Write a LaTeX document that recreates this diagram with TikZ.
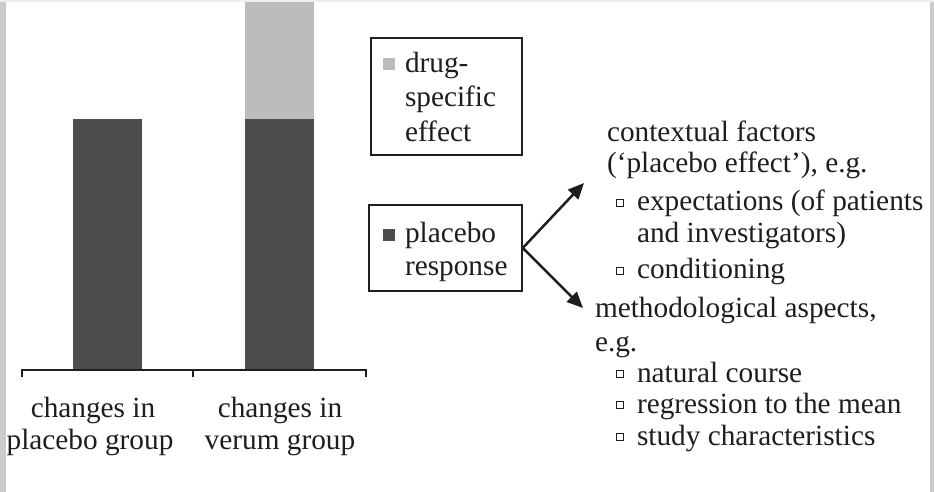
\documentclass[tikz,border=0pt]{standalone}
\usepackage{fontspec}
\setmainfont{Liberation Serif}
\usetikzlibrary{arrows.meta}
\definecolor{darkbar}{HTML}{4D4D4D}
\definecolor{lightbar}{HTML}{BBBCBD}
\definecolor{framegray}{HTML}{CCCCCC}
\definecolor{topgray}{HTML}{EDEDF2}
\definecolor{ink}{HTML}{1E1E1E}
\begin{document}
\begin{tikzpicture}[x=1pt,y=-1pt,
  txt/.style={inner sep=0pt,outer sep=0pt,font=\fontsize{29.3}{33}\selectfont,text=ink},
  lbl/.style={txt,anchor=base west},
  ctr/.style={txt,anchor=base},
  legbox/.style={draw=ink,line width=1.5pt,inner sep=0pt,minimum width=#1},
  bul/.style={draw=ink,line width=1.1pt,inner sep=0pt,minimum size=7pt,anchor=south west},
  arr/.style={line width=2.5pt,draw=ink,-{Triangle[length=16pt,width=14pt]}},
]
\useasboundingbox (0,0) rectangle (934,492);
\fill[white] (0,0) rectangle (934,492);
% frame strips
\fill[framegray] (0,0) rectangle (6,492);
\fill[framegray] (930,0) rectangle (934,492);
\fill[topgray] (0,0) rectangle (934,2);
% bars
\fill[darkbar] (73,119) rectangle (142,370);
\fill[darkbar] (245,119) rectangle (314,370);
\fill[lightbar] (245,2) rectangle (314,119);
% axis
\draw[line width=1.5pt,ink] (22,377) -- (22,370) -- (366,370) -- (366,377);
\draw[line width=1.5pt,ink] (193,370) -- (193,377);
% axis labels
\node[ctr] (c1a) at (93,417) {changes in};
\node[ctr] (c1b) at (90,449) {placebo group};
\node[ctr] (c2a) at (280,417) {changes in};
\node[ctr] (c2b) at (280,449) {verum group};
% legend boxes
\node[legbox=151pt,minimum height=117pt] (box1) at (446.5,96.5) {};
\node[legbox=153pt,minimum height=86pt] (box2) at (445.5,248) {};
\node[fill=lightbar,inner sep=0pt,minimum size=12pt] (sq1) at (389,64) {};
\node[fill=darkbar,inner sep=0pt,minimum size=12pt] (sq2) at (389,235) {};
\node[lbl] (d1) at (405,73) {drug-};
\node[lbl] (d2) at (405,107) {specific};
\node[lbl] (d3) at (405,142) {effect};
\node[lbl] (p1) at (405,242) {placebo};
\node[lbl] (p2) at (405,275) {response};
% arrows
\coordinate (up) at (584,183);
\coordinate (dn) at (583,308);
\draw[arr] (box2.east) -- (up);
\draw[arr] (box2.east) -- (dn);
% right text
\node[lbl] (t1) at (607,142) {contextual factors};
\node[lbl] (t2) at (607,172) {(‘placebo effect’), e.g.};
\node[bul] (b1) at (616,207) {};
\node[lbl] (t3) at (637,210) {expectations (of patients};
\node[lbl] (t4) at (637,242) {and investigators)};
\node[bul] (b2) at (616,275) {};
\node[lbl] (t5) at (637,278) {conditioning};
\node[lbl] (m1) at (595,317) {methodological aspects,};
\node[lbl] (m2) at (595,351) {e.g.};
\node[bul] (b3) at (616,378) {};
\node[lbl] (m3) at (637,382) {natural course};
\node[bul] (b4) at (616,409) {};
\node[lbl] (m4) at (637,413) {regression to the mean};
\node[bul] (b5) at (616,441) {};
\node[lbl] (m5) at (637,445) {study characteristics};
\end{tikzpicture}
\end{document}
